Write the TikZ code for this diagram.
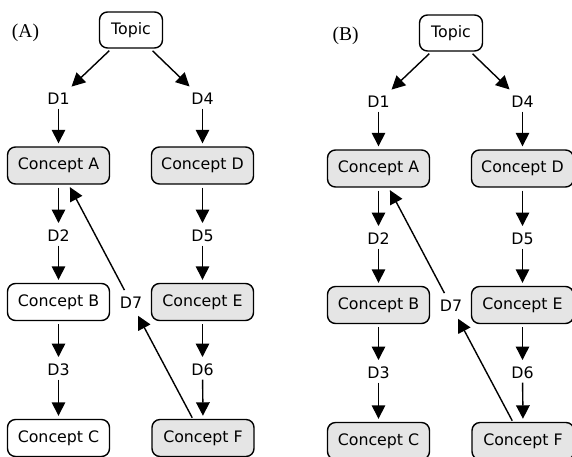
\documentclass[tikz,border=0pt]{standalone}
\usepackage{fontspec}
\newfontfamily\boxfont{DejaVu Sans}
\newfontfamily\panelfont{Liberation Serif}
\usetikzlibrary{arrows.meta}

% One concept-map panel: #1 node-name suffix, #2 panel tag,
% #3 style of Concept B, #4 style of Concept C
\newcommand\conceptpanel[4]{%
  \node[panellab] (tag#1) at (25.5,33) {#2};
  \node[topicbox] (top#1) at (131,30) {Topic};
  \node[lab] (d1#1) at (58.5,99) {D1};
  \node[lab] (d4#1) at (202.5,99) {D4};
  \node[shaded] (ca#1) at (58.5,165.5) {Concept A};
  \node[shaded] (cd#1) at (202.5,165.5) {Concept D};
  \node[lab] (d2#1) at (58.5,236) {D2};
  \node[lab] (d5#1) at (202.5,236) {D5};
  \node[#3] (cb#1) at (58.5,302) {Concept B};
  \node[shaded] (ce#1) at (202.5,302) {Concept E};
  \node[lab] (d7#1) at (131,302.5) {D7};
  \node[lab] (d3#1) at (58.5,370) {D3};
  \node[lab] (d6#1) at (202.5,370) {D6};
  \node[#4] (cc#1) at (58.5,438) {Concept C};
  \node[shaded] (cf#1) at (203,438) {Concept F};
  % topic branches
  \draw[arr, shorten <=30pt, shorten >=18pt] (top#1.center) -- (d1#1.center);
  \draw[arr, shorten <=30pt, shorten >=18pt] (top#1.center) -- (d4#1.center);
  % left chain
  \draw[fromlab] (d1#1.center) -- (ca#1.north);
  \draw[tolab] (ca#1.south) -- (d2#1.center);
  \draw[fromlab] (d2#1.center) -- (cb#1.north);
  \draw[tolab] (cb#1.south) -- (d3#1.center);
  \draw[fromlab] (d3#1.center) -- (cc#1.north);
  % right chain
  \draw[fromlab] (d4#1.center) -- (cd#1.north);
  \draw[tolab] (cd#1.south) -- (d5#1.center);
  \draw[fromlab] (d5#1.center) -- (ce#1.north);
  \draw[tolab] (ce#1.south) -- (d6#1.center);
  \draw[fromlab] (d6#1.center) -- (cf#1.north);
  % cross link F -> D7 -> A
  \draw[arr, shorten <=23pt, shorten >=15pt] (cf#1.center) -- (d7#1.center);
  \draw[arr, shorten <=14pt, shorten >=24.5pt] (d7#1.center) -- (ca#1.center);
}

\begin{document}
\begin{tikzpicture}[x=1pt,y=-1pt,
  every node/.style={font=\boxfont\fontsize{15.8}{18}\selectfont},
  concept/.style={draw, line width=1.4pt, rounded corners=8pt,
    minimum width=102pt, minimum height=37pt, inner sep=0pt, fill=white},
  shaded/.style={concept, fill=gray!20},
  topicbox/.style={concept, minimum width=63pt, minimum height=36pt},
  lab/.style={inner sep=0pt},
  panellab/.style={inner sep=0pt, font=\panelfont\fontsize{19.5}{22}\selectfont},
  arr/.style={line width=1.4pt, -{Triangle[length=13.5pt,width=13.5pt]}},
  fromlab/.style={arr, shorten <=9.5pt, shorten >=3pt},
  tolab/.style={arr, shorten <=3pt, shorten >=13pt}]
\useasboundingbox (0,0) rectangle (572,456);
\conceptpanel{a}{(A)}{concept}{concept}
\begin{scope}[shift={(320,3)}]
\conceptpanel{b}{(B)}{shaded}{shaded}
\end{scope}
\end{tikzpicture}
\end{document}
